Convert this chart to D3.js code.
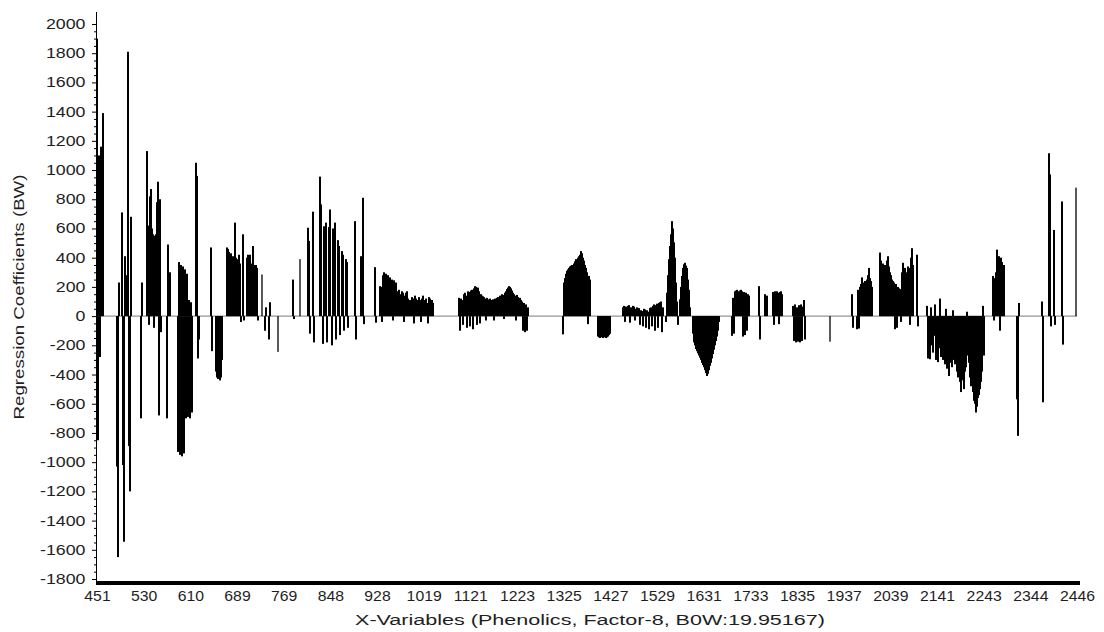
<!DOCTYPE html>
<html>
<head>
<meta charset="utf-8">
<script src="https://cdn.jsdelivr.net/npm/d3@7"></script>
<style>
  body { margin: 0; background: #fff; }
  svg { display: block; font-family: "Liberation Sans", Arial, sans-serif; }
</style>
</head>
<body>
<svg id="chart" width="1104" height="632"></svg>
<script>
// X-axis labels (wavelengths) placed at evenly spaced variable positions
const xTickLabels = ["451", "530", "610", "689", "769", "848", "928", "1019", "1121", "1223", "1325",
  "1427", "1529", "1631", "1733", "1835", "1937", "2039", "2141", "2243", "2344", "2446"];

// Y-axis ticks
const yTicks = d3.range(-1800, 2001, 200);
const yMinorTicks = d3.range(-1800, 2001, 50).filter(v => v % 200 !== 0);

// Number of variable slots spanned by the x axis
const nVariables = 980;

// Regression coefficients, stored as runs of variables:
// each run starts at segmentStart[k] (variable number) and holds segmentCoef[k];
// null marks a variable left out of the model
const segmentStart = [0, 20, 25, 30, 44, 50, 70, 81, 99, 114, 119, 130, 146, 150, 165, 168, 172, 181,
  196, 203, 211, 216, 223, 258, 264, 278, 283, 362, 466, 501, 526, 569, 583, 596, 635, 662, 668, 676,
  696, 733, 755, 760, 783, 820, 830, 896, 920, 945, 952, 957, 965, 979];

const segmentCoef = [
  [1900, -850, 1100, -280, 1160, 955, 1390],
  [-1030, -1650, 230],
  [710, -1020, -1545, 410],
  [280, 1810, -890, -1200, 680],
  [-700, 230],
  [1130, 620, -60, 820, 870, 600, 560, -80, 550, 560, 780, 920, -680, 800, -110],
  [-700, 490, 290, 300],
  [-930, 370, -950, 350, -960, 340, -940, 320, -700, 290, -690, 110, -700, 95, -660],
  [1050, 960, -290, -160],
  [470, -240],
  [-380, -420, -430, -410, -440, -420, -300],
  [470, 460, 440, 420, 430, 400, 410, 380, 640, 400, 390, 380, 420, 360, -40],
  [560, -30],
  [400, 420, 380, 420, 360, 350, 480, 350, 340, 350, 330, -30],
  [285],
  [-100, 60],
  [-160, 95],
  [-245],
  [250, -20],
  [390],
  [605, 515, -120],
  [715, -180],
  [955, 765, null, -190, 615, null, 640, -180, null, 610, 730, null, -200, 600, null, 640, -160, null,
    520, 480, -130, null, 445, 420, -100, null, 390, 370, -80],
  [650, -160],
  [410, 400, 810, -55],
  [335, -45],
  [205, 200, -40, 280, 300, 270, 290, 260, 280, 250, 265, 240, 250, -30, 245, 220, 230, 170, 160, 180,
    150, 140, 170, 160, -40, 140, 160, 170, 120, 100, 110, 90, 130, 120, -50, 140, 120, 110, 100, 130,
    110, -40, 120, 140, 110, 100, 120, 90, -50, 130, 120, 100, 110, 90],
  [125, -100, 120, 110, -60, 150, 160, 140, -80, 170, 165, -70, 175, 180, -90, 190, 205, 200, -60, 195,
    170, -50, 150, 140, 135, 130, 120, -30, 125, 115, 110, 120, 105, 110, 115, -30, 120, 110, 125, 130,
    120, 140, 135, 150, 145, -20, 160, 170, 185, 195, 205, 200, 190, 175, 160, 150, 140, -30, 145, 130,
    120, 125, 110, 100, -100, 90, -110, 80, -100, 60],
  [-125, 230, 260, 290, 310, 320, 330, 340, 345, 350, 340, 360, 375, 390, 380, 400, 410, 420, 445, 430,
    400, 380, 350, 330, 300, -55, 275, 250],
  [-140, -145, -150, -145, -140, -150, -145, -140, -150, -145, -140, -130, -120],
  [60, 70, -40, 65, 50, 70, 75, -45, 60, 55, 70, 65, -30, 50, 60, 45, 55, -60, 40, 35, -70, 50, 45, -80,
    40, 30, -90, 55, 60, -70, 70, 80, -100, 75, 85, -80, 90, 95, 100, -110, 60],
  [-40, 160, 280, 390, 480, 560, 650, 600, 505, 400, 230, 100, -60],
  [115, 200, 275, 330, 355, 365, 345, 330, 250, 180, 60],
  [-120, -180, -200, -225, -240, -255, -270, -285, -300, -320, -335, -350, -370, -390, -410, -395, -370,
    -340, -320, -290, -260, -230, -200, -170, -140, -100, -40],
  [-135, 125, -120, 170, 175, 180, 170, 165, 175, 180, 170, -140, 165, -130, 160, -100, 150, 140],
  [205, -160],
  [150, 125, 140],
  [165, -60, 170, 165, 170, 160, -55, 165, 170, 150],
  [70, -170, 80, -180, 60, -175, 75, -180, 80, -170, 65, 110, -160],
  [-175],
  [150, -80],
  [-90, 180, -85, 200, 220, 265, 230, 210, 240, 200, 250, 280, 330, 260, 240, 200],
  [435, 380, 340, 360, 330, 350, 320, 380, 410, 340, 300, 280, 250, 240, 230, -90, 220, -80, 200, 190,
    185, -40, 300, 365, 320, 330, 300, 280, 340, 330, -60, 400, 465, 350],
  [420, -70],
  [70, -290, -280, -295, 60, -200, -250, -135, 80, -300, -260, -315, -220, 120, -280, -250, -300, -230,
    -330, 50, -360, -300, -410, -320, -280, -350, 40, -300, -330, -260, -380, -420, -360, -450, -520,
    -400, -440, -500, -380, -350, 30, -270, -320, -420, -480, -460, -520, -580, -600, -660, -620, -560,
    -540, -500, -450, -380, 70, -270],
  [275, -30, 260, 300, 455, 380, 410, -100, 400, 370, 340, 350],
  [-570, -820, 90],
  [100, -590],
  [1115, 970, -70],
  [590, -60],
  [785, -195],
  [880]
];

const coefs = segmentStart
  .flatMap((s, k) => segmentCoef[k].map((v, j) => ({ i: s + j, v })))
  .filter(d => d.v !== null);

// a bar with no neighbouring variable is drawn as a thin hairline
const present = new Set(coefs.map(d => d.i));
coefs.forEach(d => { d.isolated = !present.has(d.i - 1) && !present.has(d.i + 1); });

const svg = d3.select("#chart");
svg.append("rect").attr("width", 1104).attr("height", 632).attr("fill", "#fff");

const x = d3.scaleLinear().domain([0, nVariables]).range([97, 1077]);
const y = d3.scaleLinear().domain([-1800, 2000]).range([579, 24]);

const textColor = "#1e1e1e";

// zero reference line
svg.append("line")
  .attr("x1", x(0)).attr("x2", x(nVariables))
  .attr("y1", y(0)).attr("y2", y(0))
  .attr("stroke", "#7a7a7a").attr("stroke-width", 1);

// coefficient bars
const barW = d => d.isolated ? 1.3 : 2;
svg.append("g").attr("fill", "#000")
  .selectAll("rect").data(coefs).join("rect")
  .attr("x", d => x(d.i) - barW(d) / 2)
  .attr("width", barW)
  .attr("y", d => y(Math.max(0, d.v)))
  .attr("height", d => Math.abs(y(d.v) - y(0)));

// y axis: wide-set tick labels
const yStretch = 1.27;
const yAxis = svg.append("g").attr("transform", "translate(96,0)")
  .call(d3.axisLeft(y).tickValues(yTicks).tickSize(4).tickPadding(4.3).tickFormat(d => String(d)));
yAxis.select(".domain").remove();
yAxis.selectAll("text")
  .attr("fill", textColor)
  .attr("transform", `scale(${yStretch},1)`)
  .style("font-size", "14px");
yAxis.selectAll("line").attr("stroke", "#000");

svg.append("g").selectAll("line").data(yMinorTicks).join("line")
  .attr("x1", 94).attr("x2", 96)
  .attr("y1", d => y(d) + 0.5).attr("y2", d => y(d) + 0.5)
  .attr("stroke", "#000");

svg.append("line")
  .attr("x1", 96.5).attr("x2", 96.5)
  .attr("y1", 12).attr("y2", 584)
  .attr("stroke", "#000").attr("stroke-width", 1);

// heavy baseline of the x axis
svg.append("rect")
  .attr("x", 96).attr("y", 581)
  .attr("width", 984).attr("height", 4)
  .attr("fill", "#000");

// x axis labels
const xTickPos = xTickLabels.map((_, k) => k * nVariables / (xTickLabels.length - 1));
const xAxis = svg.append("g").attr("transform", "translate(0,585)")
  .call(d3.axisBottom(x).tickValues(xTickPos).tickSize(0).tickPadding(6)
    .tickFormat((d, k) => xTickLabels[k]));
xAxis.select(".domain").remove();
xAxis.selectAll("text")
  .attr("fill", textColor)
  .attr("transform", "scale(1.13,1)")
  .style("font-size", "14px");

// axis titles
svg.append("text")
  .attr("x", 590).attr("y", 625)
  .attr("text-anchor", "middle")
  .attr("fill", textColor)
  .attr("textLength", 470).attr("lengthAdjust", "spacingAndGlyphs")
  .style("font-size", "14px")
  .text("X-Variables (Phenolics, Factor-8, B0W:19.95167)");

svg.append("text")
  .attr("transform", "translate(24,297) rotate(-90)")
  .attr("text-anchor", "middle")
  .attr("fill", textColor)
  .attr("textLength", 245).attr("lengthAdjust", "spacingAndGlyphs")
  .style("font-size", "14px")
  .text("Regression Coefficients (BW)");
</script>
</body>
</html>
